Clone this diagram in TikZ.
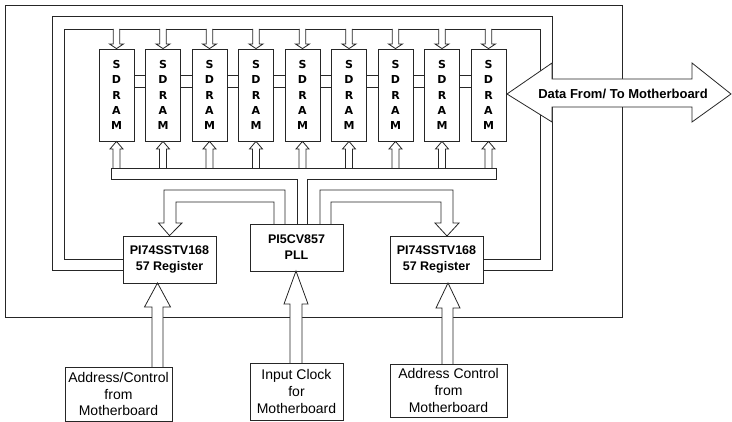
\documentclass[tikz,border=0pt]{standalone}
\usepackage{fontspec}
\setmainfont{Liberation Sans}
\newfontfamily\heavyfont{DejaVu Sans}
\usetikzlibrary{calc}
\tikzset{
  ln/.style={draw=black!85, line width=0.8pt, line join=miter},
  hollow/.style={ln, fill=white},
  box/.style={ln, fill=white, rectangle, inner sep=0pt, align=center},
  ram/.style={box, minimum width=35pt, minimum height=92pt, font=\heavyfont\fontsize{11}{15.2}\selectfont\bfseries},
  reg/.style={box, minimum width=93pt, minimum height=47pt, font=\fontsize{12.5}{16}\selectfont\bfseries},
  src/.style={box, font=\fontsize{14}{16.8}\selectfont},
}
\begin{document}
\begin{tikzpicture}[x=1pt,y=-1pt]
\useasboundingbox (0,0) rectangle (732,422);
% outer board
\draw[ln] (5,5) rectangle (622,317);
% main blocks
\node[reg] (regL) at (169.5,259.5) {PI74SSTV168\\57 Register};
\node[reg] (pll) at (296.5,247.5) {PI5CV857\\PLL};
\node[reg] (regR) at (436.5,259.5) {PI74SSTV168\\57 Register};
% loops from registers to SDRAM tops
\draw[ln] (regL.west |- 0,259) -- (64,259) -- (64,29) -- (540,29) -- (540,259) -- (regR.east |- 0,259);
\draw[ln] (regL.west |- 0,270) -- (52,270) -- (52,16) -- (552,16) -- (552,270) -- (regR.east |- 0,270);
% SDRAMs
\foreach \i in {0,...,8}{
  \node[ram] (s\i) at ({116.5+46.5*\i},95) {S\\D\\R\\A\\M};
  \pgfmathsetmacro{\c}{116.5+46.5*\i}
  \filldraw[hollow] (\c-3.2,29) -- (\c-3.2,44) -- (\c-7,44) -- (s\i.north) -- (\c+7,44) -- (\c+3.2,44) -- (\c+3.2,29);
  \filldraw[hollow] (\c-3.5,168) -- (\c-3.5,149) -- (\c-6.5,149) -- (s\i.south) -- (\c+6.5,149) -- (\c+3.5,149) -- (\c+3.5,168);
}
\foreach \i [evaluate=\i as \j using int(\i+1)] in {0,...,7}{
  \draw[ln] (s\i.east |- 0,75) -- (s\j.west |- 0,75);
  \draw[ln] (s\i.east |- 0,87) -- (s\j.west |- 0,87);
}
% bus from PLL to SDRAMs
\draw[ln] (297,224) -- (297,179) -- (111,179) -- (111,168) -- (496,168) -- (496,179) -- (307,179) -- (307,224);
% PLL to registers
\filldraw[hollow] (285,224) -- (285,190) -- (164,190) -- (164,223) -- (158.5,223) -- (regL.north) -- (182,223) -- (176,223) -- (176,202) -- (274,202) -- (274,224);
\filldraw[hollow] (320,224) -- (320,190) -- (453,190) -- (453,223) -- (459,223) -- (447,236) -- (435,223) -- (441,223) -- (441,202) -- (331,202) -- (331,224);
% source boxes
\node[src, minimum width=107pt, minimum height=54pt] (addrL) at (118.5,394) {Address/Control\\from\\Motherboard};
\node[src, minimum width=93pt, minimum height=57pt] (clk) at (296.5,391.5) {Input Clock\\for\\Motherboard};
\node[src, minimum width=117pt, minimum height=53pt] (addrR) at (448.5,390.5) {Address Control\\from\\Motherboard};
% input arrows
\filldraw[hollow] (152,367) -- (152,307) -- (144.5,307) -- (157.5,283) -- (170.5,307) -- (163,307) -- (163,367);
\filldraw[hollow] (290,363) -- (290,304) -- (284,304) -- (296,271) -- (308,304) -- (302,304) -- (302,363);
\filldraw[hollow] (442,364) -- (442,308) -- (436,308) -- (448,283) -- (460,308) -- (453,308) -- (453,364);
% data arrow
\filldraw[hollow] (507,94) -- (552,63) -- (552,79) -- (692,79) -- (692,63) -- (731,94) -- (692,122) -- (692,107) -- (552,107) -- (552,122) -- cycle;
\node[font=\fontsize{13}{15}\selectfont\bfseries] (data) at (623,94) {Data From/ To Motherboard};
\end{tikzpicture}
\end{document}
